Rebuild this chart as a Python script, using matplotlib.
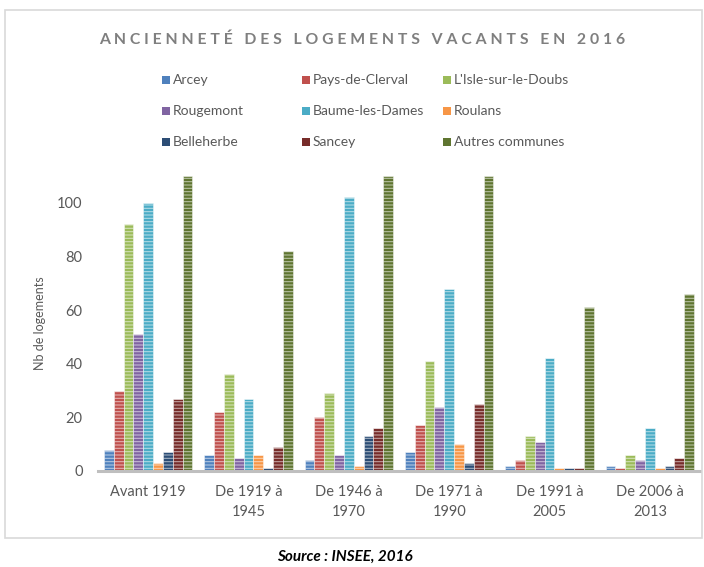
import matplotlib
matplotlib.use("Agg")
import matplotlib.pyplot as plt
from matplotlib.patches import Rectangle
import numpy as np

periods = ["Avant 1919", "De 1919 à\n1945", "De 1946 à\n1970", "De 1971 à\n1990",
           "De 1991 à\n2005", "De 2006 à\n2013"]
# values per commune
arcey = [8, 6, 4, 7, 2, 2]
pays_de_clerval = [30, 22, 20, 17, 4, 1]
isle_sur_le_doubs = [92, 36, 29, 41, 13, 6]
rougemont = [51, 5, 6, 24, 11, 4]
baume_les_dames = [100, 27, 102, 68, 42, 16]
roulans = [3, 6, 2, 10, 1, 1]
belleherbe = [7, 1, 13, 3, 1, 2]
sancey = [27, 9, 16, 25, 1, 5]
autres_communes = [110, 82, 110, 110, 61, 66]

bar_order = [
    ("Arcey", arcey, "#4F81BD"),
    ("Pays-de-Clerval", pays_de_clerval, "#C0504D"),
    ("L'Isle-sur-le-Doubs", isle_sur_le_doubs, "#9BBB59"),
    ("Rougemont", rougemont, "#8064A2"),
    ("Baume-les-Dames", baume_les_dames, "#4BACC6"),
    ("Roulans", roulans, "#F79646"),
    ("Belleherbe", belleherbe, "#2C4D75"),
    ("Sancey", sancey, "#772C2A"),
    ("Autres communes", autres_communes, "#5F7530"),
]

plt.rcParams['font.family'] = ['Lato', 'DejaVu Sans']
plt.rcParams['hatch.linewidth'] = 0.8

fig = plt.figure(figsize=(7.04, 5.67), dpi=100)
# outer chart frame
fig.patches.append(Rectangle((5/704, 1 - 538/567), 697/704, 528/567, transform=fig.transFigure,
                             fill=False, edgecolor="#d9d9d9", linewidth=1.2))

ax = fig.add_axes([98/704, 1 - 471/567, 602/704, (471 - 176)/567])
x = np.arange(len(periods))
w = 0.098
for i, (name, vals, col) in enumerate(bar_order):
    ax.bar(x + (i - 4) * w, vals, width=w, color=col, edgecolor=(1, 1, 1, 0.55),
           linewidth=0.6, hatch="-----", label=name)

ax.set_xlim(-0.5, len(periods) - 0.5)
ax.set_ylim(0, 110)
ax.set_yticks([0, 20, 40, 60, 80, 100])
ax.tick_params(axis='y', length=0, labelsize=10.5, labelcolor="#595959", pad=11)
ax.tick_params(axis='x', length=0, labelsize=10.5, labelcolor="#595959", pad=10)
ax.set_xticks(x)
ax.set_xticklabels(periods, linespacing=1.55)
for s in ["top", "right", "left"]:
    ax.spines[s].set_visible(False)
ax.spines["bottom"].set_color("#bfbfbf")
ax.spines["bottom"].set_linewidth(2.2)
ax.set_ylabel("Nb de logements", fontsize=9, color="#595959", labelpad=8)

# title
fig.text(362/704, 1 - 40/567, "A N C I E N N E T É   D E S   L O G E M E N T S   V A C A N T S   E N   2 0 1 6",
         ha="center", va="center", fontsize=11.3, fontweight="bold", color="#7f7f7f")

# legend (3 columns, row-major as reference)
leg_cols_x = [162, 302, 443]
leg_rows_y = [80, 111, 142]
legend_layout = [
    ["Arcey", "Pays-de-Clerval", "L'Isle-sur-le-Doubs"],
    ["Rougemont", "Baume-les-Dames", "Roulans"],
    ["Belleherbe", "Sancey", "Autres communes"],
]
colmap = {n: c for n, _, c in bar_order}
for r, row in enumerate(legend_layout):
    for c, name in enumerate(row):
        px, py = leg_cols_x[c], leg_rows_y[r]
        fig.patches.append(Rectangle((px / 704, 1 - (py + 4) / 567), 8 / 704, 8 / 567,
                                     transform=fig.transFigure, facecolor=colmap[name],
                                     edgecolor="none"))
        fig.text((px + 11) / 704, 1 - py / 567, name, ha="left", va="center",
                 fontsize=10, color="#595959")

fig.text(345/704, 1 - 557/567, "Source : INSEE, 2016", ha="center", va="center",
         fontsize=11, fontweight="bold", fontstyle="italic", color="#000000")

fig.savefig("out.png", dpi=100)
